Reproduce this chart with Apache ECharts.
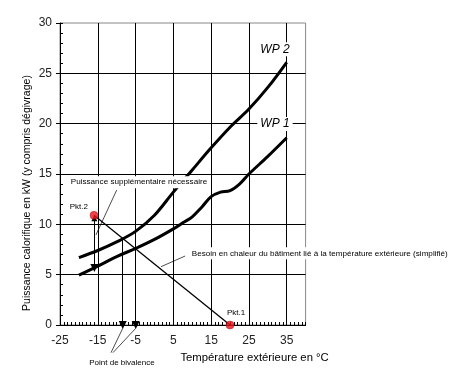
<!DOCTYPE html>
<html><head><meta charset="utf-8">
<script src="https://cdn.jsdelivr.net/npm/echarts@6/dist/echarts.min.js"></script>
<style>html,body{margin:0;padding:0;background:#fff}#c{width:464px;height:381px}</style>
</head><body><div id="c"></div>
<script>
// ---- data ----
const wp1Temps = [-20, -15, -10, -5, 0, 5, 7.5, 10, 12.5, 15, 17.5, 20, 22.5, 25, 30, 35];
const wp1Vals  = [4.95, 5.85, 6.8, 7.6, 8.5, 9.55, 10.15, 10.75, 11.7, 12.75, 13.2, 13.35, 14.0, 15.0, 16.75, 18.6];
const wp2Temps = [-20, -15, -10, -5, 0, 5, 10, 15, 20, 25, 30, 35];
const wp2Vals  = [6.7, 7.4, 8.25, 9.3, 10.9, 13.2, 15.4, 17.6, 19.65, 21.45, 23.6, 26.1];
const pkt2 = [-16, 10.9];
const pkt1 = [20, 0];
const bivalenceWP2 = [-8.4, 8.6];
const bivalenceWP1 = [-4.96, 7.56];
const extraPower = [[-15.9, 10.6], [-15.9, 5.65]];
const xTicks = [-25, -15, -5, 5, 15, 25, 35];
const yTicks = [0, 5, 10, 15, 20, 25, 30];

const FONT = 'Arial, "Liberation Sans", sans-serif';
const chart = echarts.init(document.getElementById('c'), null, {renderer: 'canvas'});

const zip = (a, b) => a.map((v, i) => [v, b[i]]);

chart.setOption({
  animation: false,
  backgroundColor: '#fff',
  grid: {left: 60, right: 158.4, top: 23, bottom: 56, show: true, borderColor: '#888', borderWidth: 1},
  xAxis: [{
    type: 'value', min: xTicks[0], max: 40, interval: 10,
    axisLine: {onZero: false, lineStyle: {color: '#000', width: 1}},
    axisTick: {show: false},
    axisLabel: {showMaxLabel: false, color: '#222', fontSize: 12, margin: 10, fontFamily: FONT},
    splitLine: {show: true, showMinLine: false, showMaxLine: false, lineStyle: {color: '#000', width: 1}}
  }, {
    type: 'value', min: xTicks[0], max: 40, interval: 1, position: 'bottom',
    axisLine: {show: false, onZero: false},
    axisTick: {show: true, inside: true, length: 3, lineStyle: {color: '#000'}},
    axisLabel: {show: false}, splitLine: {show: false}
  }],
  yAxis: [{
    type: 'value', min: yTicks[0], max: yTicks[yTicks.length - 1], interval: 5,
    axisLine: {show: true, onZero: false, lineStyle: {color: '#000', width: 1}},
    axisTick: {show: true, inside: false, length: 4, lineStyle: {color: '#000'}},
    axisLabel: {color: '#222', fontSize: 12, margin: 8, fontFamily: FONT},
    splitLine: {show: true, showMinLine: false, showMaxLine: false, lineStyle: {color: '#000', width: 1}}
  }, {
    type: 'value', min: 0, max: 30, interval: 1, position: 'left',
    axisLine: {show: false, onZero: false},
    axisTick: {show: true, inside: true, length: 3, lineStyle: {color: '#000'}},
    axisLabel: {show: false}, splitLine: {show: false}
  }],
  series: [
    {type: 'line', name: 'WP 1', data: zip(wp1Temps, wp1Vals), smooth: 0.35, showSymbol: false,
     lineStyle: {color: '#000', width: 3}, z: 3},
    {type: 'line', name: 'WP 2', data: zip(wp2Temps, wp2Vals), smooth: 0.35, showSymbol: false,
     lineStyle: {color: '#000', width: 3}, z: 3},
    {type: 'line', name: 'Besoin', data: [pkt2, pkt1], showSymbol: false,
     lineStyle: {color: '#000', width: 1.3}, z: 4},
    {type: 'lines', coordinateSystem: 'cartesian2d', clip: false, z: 5,
     symbol: ['none', 'triangle'], symbolSize: [6, 8],
     lineStyle: {color: '#000', width: 1, opacity: 1},
     data: [
       {coords: [bivalenceWP2, [bivalenceWP2[0], 0]]},
       {coords: [bivalenceWP1, [bivalenceWP1[0], 0]]}
     ]},
    {type: 'lines', coordinateSystem: 'cartesian2d', clip: false, z: 5,
     symbol: ['triangle', 'triangle'], symbolSize: [6, 8],
     lineStyle: {color: '#000', width: 1, opacity: 1},
     data: [{coords: extraPower}]},
    {type: 'lines', coordinateSystem: 'cartesian2d', clip: false, z: 5,
     symbol: ['none', 'none'],
     lineStyle: {color: '#000', width: 0.7, opacity: 1},
     data: [
       {coords: [[-10.0, 13.4], [-15.5, 8.94]]},
       {coords: [[8.1, 6.85], [1.73, 5.79]]},
       {coords: [[-11.5, -2.75], [-8.4, -0.33]]},
       {coords: [[-11.0, -2.75], [-4.96, -0.33]]}
     ]},
    {type: 'scatter', data: [pkt2, pkt1], symbolSize: 8, z: 6,
     itemStyle: {color: '#e8141a', borderColor: '#900', borderWidth: 0.5}}
  ]
});

const P = (x, y) => chart.convertToPixel({gridIndex: 0}, [x, y]);
function txt(pos, text, opts) {
  return {
    type: 'text', z: 100, x: pos[0], y: pos[1],
    style: Object.assign({text: text, font: '8px ' + FONT, fill: '#000',
      align: 'center', verticalAlign: 'middle', backgroundColor: '#fff'}, opts || {})
  };
}
const g = [
  txt(P(31.9, 27.4), 'WP 2', {font: 'italic 12px ' + FONT, padding: [1, 3]}),
  txt(P(31.9, 19.97), 'WP 1', {font: 'italic 12px ' + FONT, padding: [1, 3]}),
  txt(P(-4.1, 14.18), 'Puissance supplémentaire nécessaire', {font: '8.1px ' + FONT, padding: [2, 2]}),
  txt(P(-20.0, 11.75), 'Pkt.2', {backgroundColor: null}),
  txt(P(21.6, 1.22), 'Pkt.1', {backgroundColor: null}),
  txt(P(9.6, 7.12), 'Besoin en chaleur du bâtiment lié à la température extérieure (simplifié)', {font: '8.1px ' + FONT, align: 'left', padding: [2, 1]}),
  txt(P(-8.6, -3.75), 'Point de bivalence', {backgroundColor: null}),
  txt(P(26.5, -3.23), 'Température extérieure en °C', {font: '11.3px ' + FONT, backgroundColor: null}),
  Object.assign(txt([26.7, 193], 'Puissance calorifique en kW (y compris dégivrage)', {font: '10.5px ' + FONT, backgroundColor: null}), {rotation: Math.PI / 2})
];
chart.setOption({graphic: g});
</script></body></html>
